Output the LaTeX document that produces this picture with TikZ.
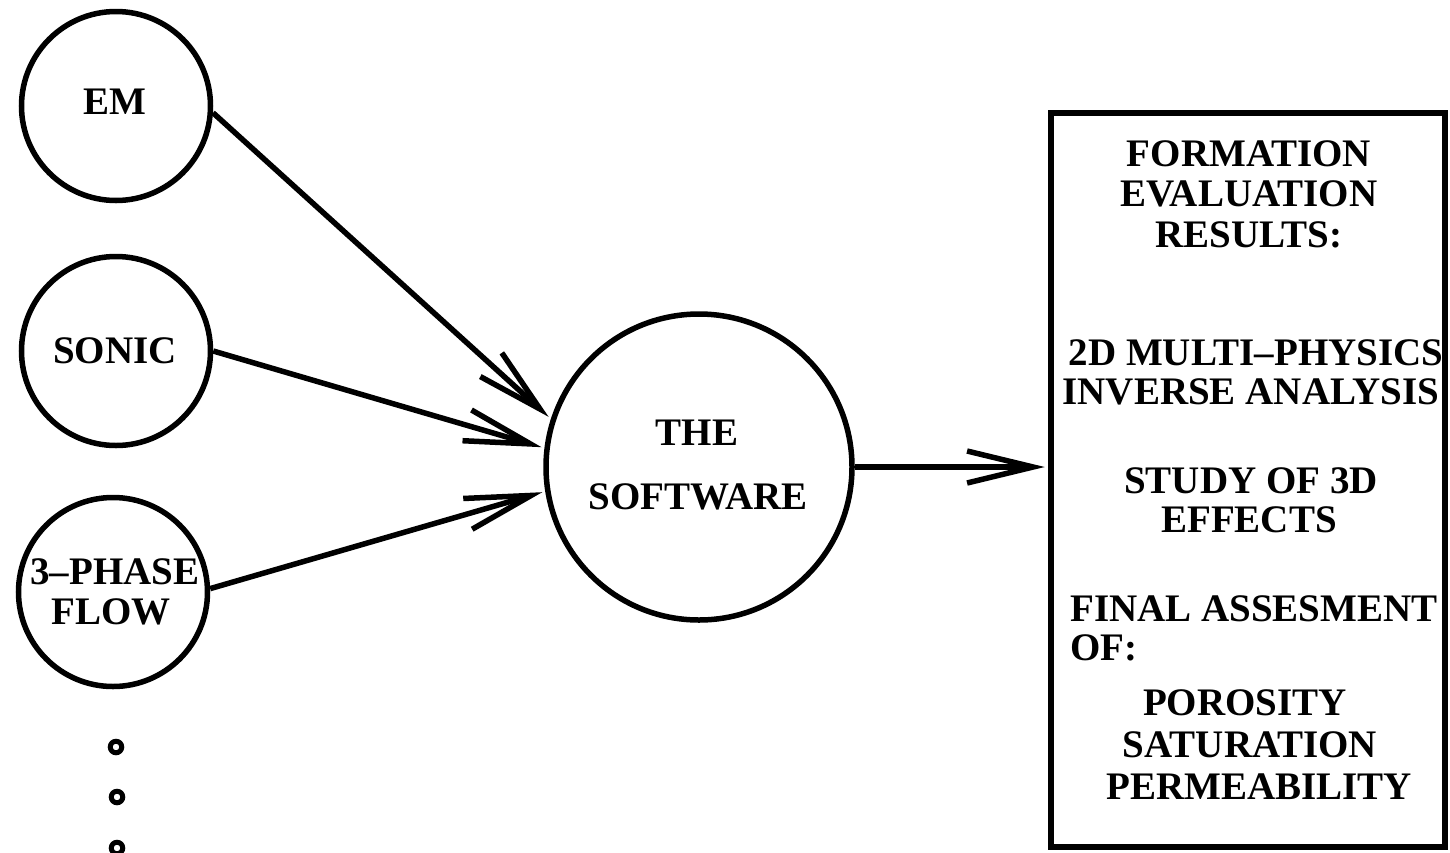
\documentclass[tikz,border=0pt]{standalone}
\usepackage{fontspec}
\setmainfont{Liberation Serif}
\usetikzlibrary{arrows.meta}
\begin{document}
\begin{tikzpicture}[x=1pt,y=-1pt,
  lbl/.style={inner sep=0pt, anchor=base, font=\bfseries\fontsize{39}{41}\selectfont},
  src/.style={circle, draw, line width=5.5pt, minimum size=189pt, inner sep=0pt},
  conn/.style={line width=5.5pt, -{Straight Barb[length=66pt,width=32pt]}, shorten >=3pt},
  dotring/.style={circle, draw, line width=5pt, minimum size=11.5pt, inner sep=0pt}]
\useasboundingbox (0,0) rectangle (1450,852);
% source circles
\node[src] (em) at (116,106) {};
\node[src] (sonic) at (116,351) {};
\node[src] (flow) at (113,592) {};
\node[src, minimum size=306pt] (sw) at (699,467) {};
% result box
\node[draw, line width=6.5pt, minimum width=394pt, minimum height=734pt, inner sep=0pt] (box) at (1248,480) {};
% circle labels
\node[lbl] (tem) at (115,114) {EM};
\node[lbl] (tsonic) at (115,363) {SONIC};
\node[lbl] (tph) at (115,584) {3–PHASE};
\node[lbl] (tflow) at (111,624) {FLOW};
\node[lbl] (tthe) at (697,445) {THE};
\node[lbl] (tsoft) at (698,509) {SOFTWARE};
% box labels
\node[lbl] (r1) at (1249,166) {FORMATION};
\node[lbl] (r2) at (1249,206) {EVALUATION};
\node[lbl] (r3) at (1249,247) {RESULTS:};
\node[lbl] (r4) at (1256,365) {2D MULTI–PHYSICS};
\node[lbl] (r5) at (1251,404) {INVERSE ANALYSIS};
\node[lbl] (r6) at (1251,493) {STUDY OF 3D};
\node[lbl] (r7) at (1249,532) {EFFECTS};
\node[lbl, anchor=base west] (r8) at (1070,621) {FINAL ASSESMENT};
\node[lbl, anchor=base west] (r9) at (1070,660) {OF:};
\node[lbl] (r10) at (1245,715) {POROSITY};
\node[lbl] (r11) at (1250,757) {SATURATION};
\node[lbl] (r12) at (1259,799) {PERMEABILITY};
% connectors
\draw[conn] (em.-4) -- (sw.162);
\draw[conn] (sonic.0) -- (sw.173);
\draw[conn] (flow.2) -- (sw.189);
\draw[conn] (sw.east) -- (sw.east -| box.west);
% continuation dots
\node[dotring] (d1) at (116,747) {};
\node[dotring] (d2) at (117,797) {};
\node[dotring] (d3) at (117,848) {};
\end{tikzpicture}
\end{document}
